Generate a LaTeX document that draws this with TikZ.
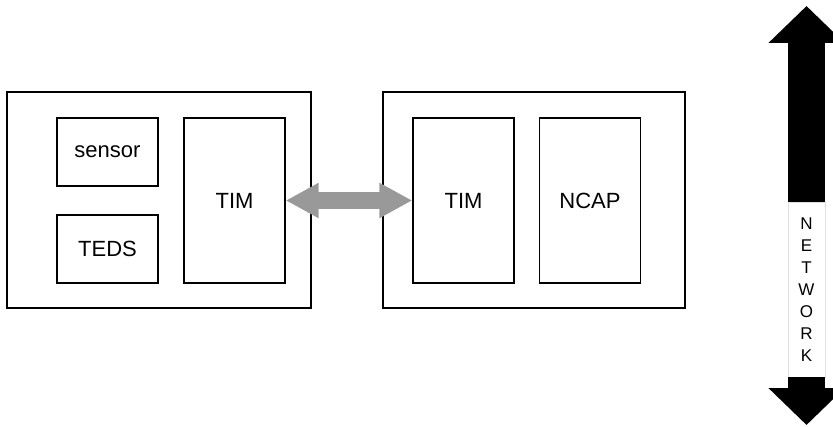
\documentclass[tikz,border=0pt]{standalone}
\usepackage{fontspec}
\setmainfont{Liberation Sans}
\usepackage{tikz}
\usetikzlibrary{shapes,arrows.meta}
\tikzstyle{frame} = [rectangle, draw, line width=0.7pt,
    minimum width=152pt, minimum height=108pt]
\tikzstyle{block} = [rectangle, draw, line width=0.7pt,
    minimum width=50.5pt, font=\fontsize{11}{13}\selectfont]
\tikzstyle{small} = [minimum height=34pt]
\tikzstyle{tall} = [minimum height=82.5pt]
\tikzstyle{link} = [draw, black!40, line width=8.5pt,
    {Triangle[length=16.5pt,width=16.5pt]}-{Triangle[length=16.5pt,width=16.5pt]}]
\tikzstyle{bus} = [draw, line width=18.5pt, -{Triangle[length=18.5pt,width=37pt]}]
\tikzstyle{nettext} = [rectangle, draw=black!12, line width=0.4pt, fill=white,
    minimum width=18.5pt, minimum height=87.5pt, align=center,
    font=\fontsize{8.5}{11}\selectfont]

\begin{document}
\begin{tikzpicture}[x=0.5pt, y=-0.5pt]
    \useasboundingbox (0,0) rectangle (833,427);
    % Place nodes
    \node [frame] (sensorside) at (159,200) {};
    \node [frame, minimum width=151pt] (ncapside) at (534,200) {};
    \node [block, small] (sensor) at (107.5,152) {sensor};
    \node [block, small, below of=sensor, node distance=48.5pt] (teds) {TEDS};
    \node [block, tall] (timA) at (234.5,200.5) {TIM};
    \node [block, tall] (timB) at (463.5,200.5) {TIM};
    \node [block, tall, right of=timB, node distance=63.25pt] (ncap) {NCAP};
    \node [nettext] (net) at (806.5,289.5) {N\\E\\T\\W\\O\\R\\K};
    \coordinate (netTop) at (806.5,6);
    \coordinate (netBot) at (806.5,425);
    % Draw edges
    \path [link] (timA.east) -- (timB.west);
    \path [bus] (net.north) -- (netTop);
    \path [bus] (net.south) -- (netBot);
\end{tikzpicture}
\end{document}
